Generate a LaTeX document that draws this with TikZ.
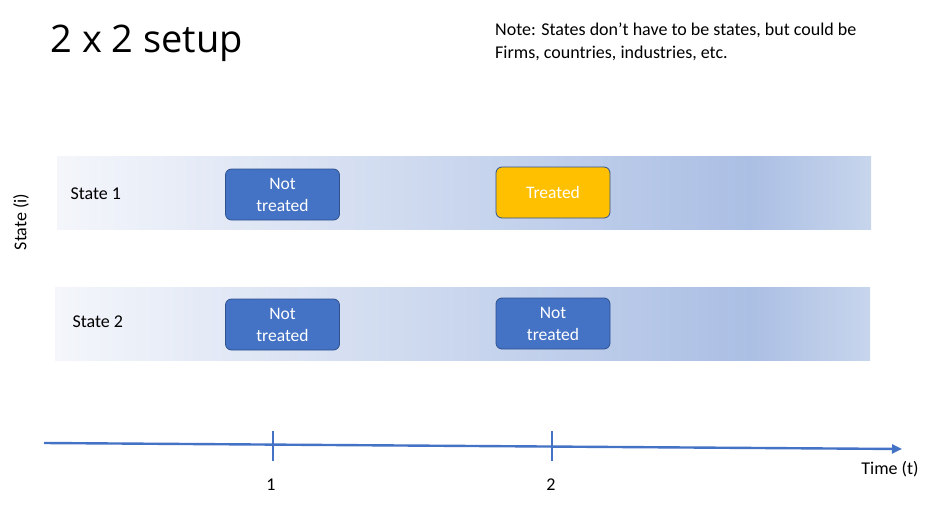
\documentclass[tikz,border=0pt]{standalone}
\usepackage{fontspec}
\setmainfont{Carlito}
\newfontfamily\titlefont{Open Sans}
\usepackage{xcolor}
\usepackage{tikz}
\usetikzlibrary{arrows.meta, positioning, calc}
\definecolor{boxblue}{HTML}{4472C4}
\definecolor{boxedge}{HTML}{2F528F}
\definecolor{treatgold}{HTML}{FFC000}
\definecolor{bandlight}{HTML}{F4F6FB}
\definecolor{bandmid}{HTML}{ABBFE4}
\definecolor{bandend}{HTML}{C7D5EC}
\definecolor{axisblue}{HTML}{4472C4}

\begin{document}
\begin{tikzpicture}[x=1pt, y=-1pt,
    cell/.style={rectangle, rounded corners=6pt, minimum width=114pt,
                 minimum height=51pt, draw=boxedge, line width=0.8pt,
                 fill=#1, text=white, align=center,
                 font=\fontsize{17.5}{22}\selectfont},
    label/.style={font=\fontsize{18}{20}\selectfont, text=black},
    axis/.style={line width=2.4pt, color=axisblue},
    tick/.style={line width=2pt, color=axisblue}
  ]
    \useasboundingbox (0,0) rectangle (932,506);

    % Bands
    \shade[left color=bandlight, right color=bandmid] (57,156) rectangle (750,229);
    \shade[left color=bandmid, right color=bandend] (749.5,156) rectangle (871,229);
    \shade[left color=bandlight, right color=bandmid] (55,287) rectangle (750,360);
    \shade[left color=bandmid, right color=bandend] (749.5,287) rectangle (870,360);

    % Title and note
    \node[anchor=west, font=\titlefont\fontsize{38}{40}\selectfont] (title) at (47,43) {2 x 2 setup};
    \node[anchor=north west, align=left, label, inner sep=0pt,
          font=\fontsize{18}{23}\selectfont] (note) at (495,23)
      {Note: States don’t have to be states, but could be\\Firms, countries, industries, etc.};

    % States
    \node[label, anchor=west] (s1) at (67,194) {State 1};
    \node[label, anchor=west] (s2) at (69,322) {State 2};
    \node[label, rotate=90] (saxis) at (21,222) {State (i)};

    % Cells
    \node[cell=boxblue]   (c11) at (282.5,194.5) {Not\\treated};
    \node[cell=treatgold] (c12) at (553,192.5)   {Treated};
    \node[cell=boxblue]   (c21) at (282.5,324.5) {Not\\treated};
    \node[cell=boxblue]   (c22) at (553,323.5)   {Not\\treated};

    % Time axis
    \coordinate (t0) at (44,443);
    \coordinate (t1) at (902,449);
    \draw[axis, -{Triangle[length=10pt, width=9pt]}] (t0) -- (t1);
    \coordinate (k1) at (273,431);
    \coordinate (k2) at (552,431);
    \draw[tick] (k1) -- ++(0,30);
    \draw[tick] (k2) -- ++(0,30);
    \node[label] (n1) at (271,485) {1};
    \node[label] (n2) at (551,485) {2};
    \node[label] (tlab) at (890,469) {Time (t)};
  \end{tikzpicture}
\end{document}
